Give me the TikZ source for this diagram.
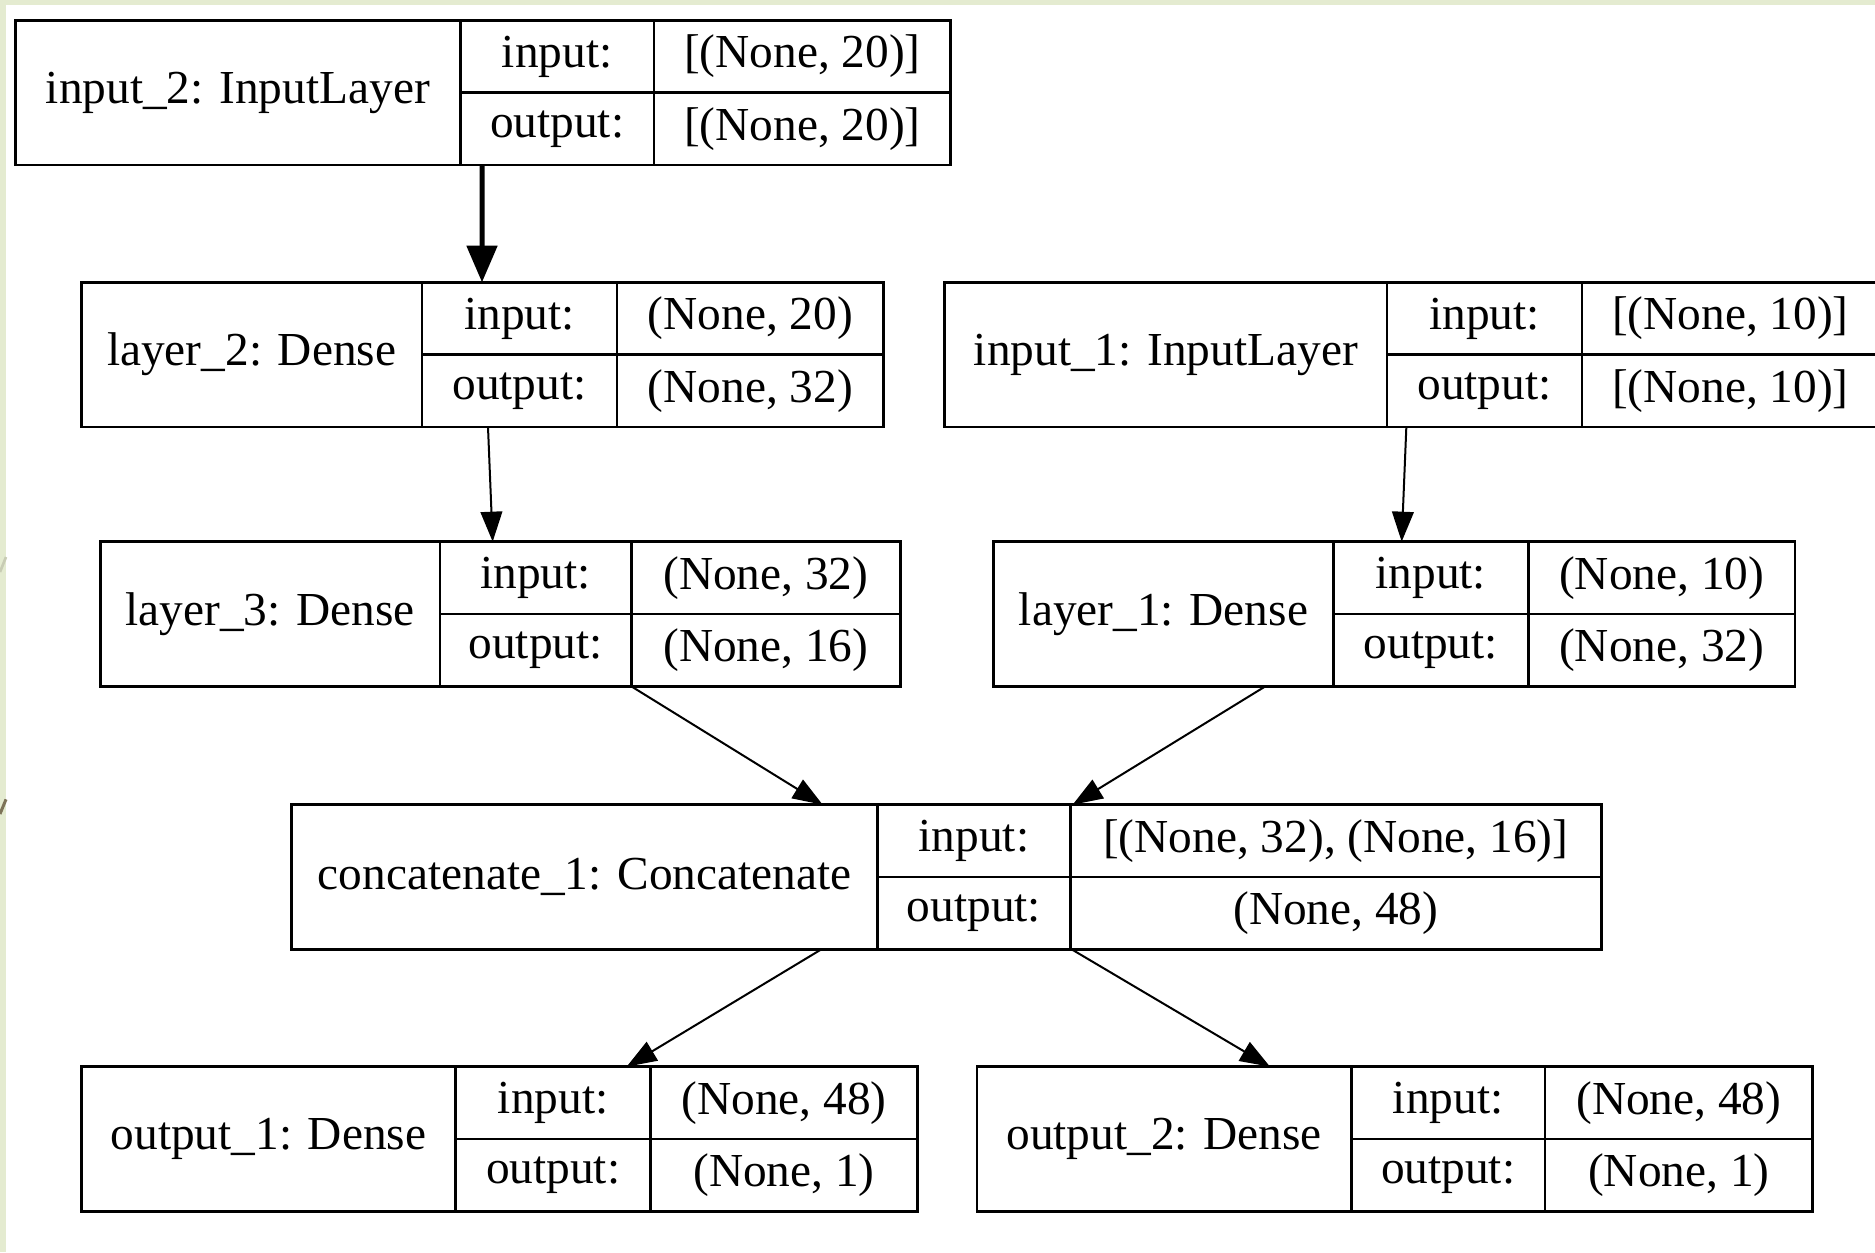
\documentclass[tikz,border=0pt]{standalone}
\usepackage{fontspec}
\setmainfont{Liberation Serif}
\usepackage{tikz}
\usetikzlibrary{shapes, arrows.meta, positioning}
\definecolor{slidegreen}{HTML}{E4EBD0}
\definecolor{slidemark}{HTML}{7D7358}
\definecolor{slidefaint}{HTML}{C8CCB4}

\begin{document}
\begin{tikzpicture}[x=1pt, y=1pt, >={Triangle[length=9pt,width=6.5pt]},
		cell/.style={draw, rectangle, line width=0.8pt, inner sep=0pt, outer sep=0pt, minimum height=21.7pt, font=\fontsize{14.2pt}{17pt}\selectfont},
		namecell/.style={cell, minimum height=43.4pt, anchor=north west},
		edge/.style={->, line width=0.6pt},
		thickedge/.style={->, line width=1.5pt, >={Triangle[length=11pt,width=9pt]}}]
		\useasboundingbox (0,0) rectangle (562.5,-375.6);
		\fill [slidegreen] (0,0) rectangle (562.5,-375.6);
		\fill [white] (1.8,-1.5) rectangle (562.5,-375.6);
		\draw [slidefaint, line width=0.8pt] (0,-171.6) -- (1.8,-167.1);
		\draw [slidemark, line width=0.9pt] (0,-244.2) -- (1.8,-239.8);
		
		\node [namecell, minimum width=133.5pt] (in2) at (4.6,-6.1) {input\_2: InputLayer};
		\node [cell, minimum width=58.1pt, below right= 0cm and 0cm of in2.north east] (in2in) {input:};
		\node [cell, minimum width=58.1pt, below= 0cm of in2in] (in2out) {output:};
		\node [cell, minimum width=89pt, right= 0cm of in2in] (in2inv) {[(None, 20)]};
		\node [cell, minimum width=89pt, right= 0cm of in2out] (in2outv) {[(None, 20)]};
		
		\node [namecell, minimum width=102.2pt] (lay2) at (24.4,-84.7) {layer\_2: Dense};
		\node [cell, minimum width=58.5pt, below right= 0cm and 0cm of lay2.north east] (lay2in) {input:};
		\node [cell, minimum width=58.5pt, below= 0cm of lay2in] (lay2out) {output:};
		\node [cell, minimum width=80pt, right= 0cm of lay2in] (lay2inv) {(None, 20)};
		\node [cell, minimum width=80pt, right= 0cm of lay2out] (lay2outv) {(None, 32)};
		
		\node [namecell, minimum width=132.7pt] (in1) at (283.4,-84.7) {input\_1: InputLayer};
		\node [cell, minimum width=58.5pt, below right= 0cm and 0cm of in1.north east] (in1in) {input:};
		\node [cell, minimum width=58.5pt, below= 0cm of in1in] (in1out) {output:};
		\node [cell, minimum width=89pt, right= 0cm of in1in] (in1inv) {[(None, 10)]};
		\node [cell, minimum width=89pt, right= 0cm of in1out] (in1outv) {[(None, 10)]};
		
		\node [namecell, minimum width=101.9pt] (lay3) at (30.1,-162.5) {layer\_3: Dense};
		\node [cell, minimum width=57.4pt, below right= 0cm and 0cm of lay3.north east] (lay3in) {input:};
		\node [cell, minimum width=57.4pt, below= 0cm of lay3in] (lay3out) {output:};
		\node [cell, minimum width=80.7pt, right= 0cm of lay3in] (lay3inv) {(None, 32)};
		\node [cell, minimum width=80.7pt, right= 0cm of lay3out] (lay3outv) {(None, 16)};
		
		\node [namecell, minimum width=101.9pt] (lay1) at (298.1,-162.5) {layer\_1: Dense};
		\node [cell, minimum width=58.5pt, below right= 0cm and 0cm of lay1.north east] (lay1in) {input:};
		\node [cell, minimum width=58.5pt, below= 0cm of lay1in] (lay1out) {output:};
		\node [cell, minimum width=80pt, right= 0cm of lay1in] (lay1inv) {(None, 10)};
		\node [cell, minimum width=80pt, right= 0cm of lay1out] (lay1outv) {(None, 32)};
		
		\node [namecell, minimum width=175.8pt] (cat) at (87.5,-241.4) {concatenate\_1: Concatenate};
		\node [cell, minimum width=57.8pt, below right= 0cm and 0cm of cat.north east] (catin) {input:};
		\node [cell, minimum width=57.8pt, below= 0cm of catin] (catout) {output:};
		\node [cell, minimum width=159.3pt, right= 0cm of catin] (catinv) {[(None, 32), (None, 16)]};
		\node [cell, minimum width=159.3pt, right= 0cm of catout] (catoutv) {(None, 48)};
		
		\node [namecell, minimum width=112.3pt] (out1) at (24.4,-320) {output\_1: Dense};
		\node [cell, minimum width=58.5pt, below right= 0cm and 0cm of out1.north east] (out1in) {input:};
		\node [cell, minimum width=58.5pt, below= 0cm of out1in] (out1out) {output:};
		\node [cell, minimum width=80pt, right= 0cm of out1in] (out1inv) {(None, 48)};
		\node [cell, minimum width=80pt, right= 0cm of out1out] (out1outv) {(None, 1)};
		
		\node [namecell, minimum width=112.3pt] (out2) at (293.1,-320) {output\_2: Dense};
		\node [cell, minimum width=58.1pt, below right= 0cm and 0cm of out2.north east] (out2in) {input:};
		\node [cell, minimum width=58.1pt, below= 0cm of out2in] (out2out) {output:};
		\node [cell, minimum width=80.3pt, right= 0cm of out2in] (out2inv) {(None, 48)};
		\node [cell, minimum width=80.3pt, right= 0cm of out2out] (out2outv) {(None, 1)};
		
		\draw [thickedge] ([xshift=6.5pt]in2out.south west) -- ([xshift=18pt]lay2in.north west);
		\draw [edge] ([xshift=19.8pt]lay2out.south west) -- ([xshift=15.8pt]lay3in.north west);
		\draw [edge] ([xshift=5.8pt]in1out.south west) -- ([xshift=20.5pt]lay1in.north west);
		\draw [edge] (lay3outv.south west) -- ([xshift=-16.5pt]cat.north east);
		\draw [edge] ([xshift=-20.4pt]lay1.south east) -- ([xshift=0.7pt]catinv.north west);
		\draw [edge] ([xshift=-16.9pt]cat.south east) -- ([xshift=-7.2pt]out1in.north east);
		\draw [edge] ([xshift=0.4pt]catoutv.south west) -- ([xshift=-24.4pt]out2.north east);
	\end{tikzpicture}
\end{document}
